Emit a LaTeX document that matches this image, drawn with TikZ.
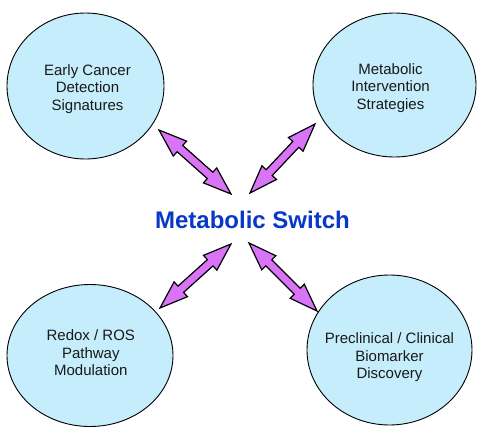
\documentclass[tikz,border=0pt]{standalone}
\usepackage{fontspec}
\setmainfont{Liberation Sans}
\usetikzlibrary{shapes.geometric,calc}
\definecolor{bubblefill}{RGB}{197,237,251}
\definecolor{arrowfill}{RGB}{217,116,247}
\definecolor{titleblue}{RGB}{8,56,200}
\definecolor{bodytext}{RGB}{25,25,25}
\tikzset{
  bubble/.style={ellipse, draw=black, line width=0.9pt, fill=bubblefill, inner sep=0pt},
  bubbletext/.style={inner sep=0pt, align=center, text=bodytext,
    font=\fontsize{15}{17.6}\selectfont},
  fatarrowstyle/.style={draw=black, fill=arrowfill, line width=1.2pt, line join=miter},
  titlestyle/.style={text=titleblue, font=\fontsize{24}{28}\selectfont\bfseries}
}
% three lines with fixed top/bottom struts: middle baseline lies 4pt below the node centre
\newcommand\threelines[3]{\rule{0pt}{12pt}#1\\#2\\#3\rule[-4pt]{0pt}{4pt}}
\newcommand\fatarrow[2]{%
  \path[fatarrowstyle] let \p1=($(#2)-(#1)$), \n1={atan2(\y1,\x1)} in
   (#1) -- ($(#1)+(\n1:28pt)+(\n1+90:10pt)$) -- ($(#1)+(\n1:28pt)+(\n1+90:4.2pt)$)
   -- ($(#2)+(\n1:-28pt)+(\n1+90:4.2pt)$) -- ($(#2)+(\n1:-28pt)+(\n1+90:10pt)$)
   -- (#2)
   -- ($(#2)+(\n1:-28pt)+(\n1-90:10pt)$) -- ($(#2)+(\n1:-28pt)+(\n1-90:4.2pt)$)
   -- ($(#1)+(\n1:28pt)+(\n1-90:4.2pt)$) -- ($(#1)+(\n1:28pt)+(\n1-90:10pt)$)
   -- cycle;}
\begin{document}
\begin{tikzpicture}[x=1pt,y=-1pt]
\useasboundingbox (0,0) rectangle (483,440);
\node[bubble, minimum width=157pt, minimum height=146pt] (tl) at (85.5,86) {};
\node[bubble, minimum width=163pt, minimum height=144pt] (tr) at (394.5,85) {};
\node[bubble, minimum width=166pt, minimum height=142pt] (bl) at (90,355.5) {};
\node[bubble, minimum width=165pt, minimum height=150pt] (br) at (389.5,350) {};
\node[bubbletext] (tltext) at (87.5,88.7) {\threelines{Early Cancer}{Detection}{Signatures}};
\node[bubbletext] (trtext) at (390.5,87.7) {\threelines{Metabolic}{Intervention}{Strategies}};
\node[bubbletext] (bltext) at (90.8,354.3) {\threelines{Redox / ROS}{Pathway}{Modulation}};
\node[bubbletext] (brtext) at (389.5,357) {\threelines{Preclinical / Clinical}{Biomarker}{Discovery}};
\node[titlestyle, anchor=base] (title) at (252.5,228.3) {Metabolic Switch};
\coordinate (a1) at (159,130); \coordinate (b1) at (231,194);
\coordinate (a2) at (315,124); \coordinate (b2) at (250,193);
\coordinate (a3) at (231,244); \coordinate (b3) at (160,308);
\coordinate (a4) at (249,243); \coordinate (b4) at (317,311);
\fatarrow{a1}{b1}
\fatarrow{a2}{b2}
\fatarrow{a3}{b3}
\fatarrow{a4}{b4}
\end{tikzpicture}
\end{document}
